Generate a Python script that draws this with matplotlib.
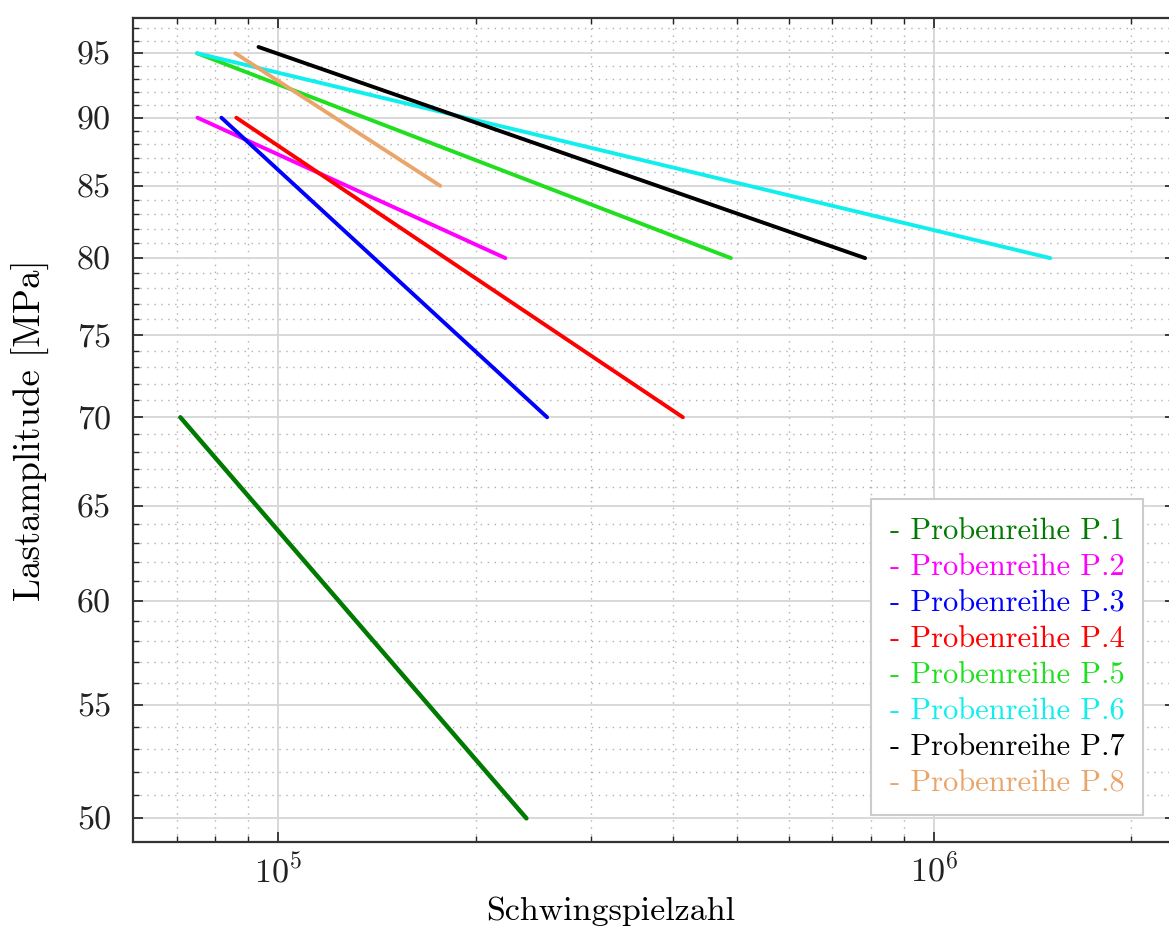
import numpy as np
import matplotlib
matplotlib.use("Agg")
import matplotlib.pyplot as plt
from matplotlib.ticker import FixedLocator, FixedFormatter, NullFormatter, LogLocator, LogFormatterMathtext

plt.rcParams['font.family'] = 'serif'
plt.rcParams['font.serif'] = ['cmr10', 'DejaVu Serif']
plt.rcParams['mathtext.fontset'] = 'cm'
plt.rcParams['axes.formatter.use_mathtext'] = True

# S-N lines (Basquin fits): start and end of each series
labels = ['Probenreihe P.1', 'Probenreihe P.2', 'Probenreihe P.3', 'Probenreihe P.4',
          'Probenreihe P.5', 'Probenreihe P.6', 'Probenreihe P.7', 'Probenreihe P.8']
colors = ['#007a00', '#ff00ff', '#0000ff', '#ff0000',
          '#1fdf1f', '#11eeee', '#000000', '#eaa66a']
n_start = [7.09e4, 7.53e4, 8.19e4, 8.63e4, 7.52e4, 7.52e4, 9.33e4, 8.60e4]
n_end = [2.39e5, 2.22e5, 2.57e5, 4.14e5, 4.90e5, 1.504e6, 7.85e5, 1.766e5]
s_start = [70, 90, 90, 90, 95, 95, 95.5, 95]
s_end = [50, 80, 70, 70, 80, 80, 80, 85]

y_major = [50, 55, 60, 65, 70, 75, 80, 85, 90, 95]
y_minor = [v for v in range(49, 98) if v % 5 != 0]

fig = plt.figure(figsize=(11.69, 9.27), dpi=100)
ax = fig.add_axes([0.1140, 0.0920, 0.8911, 0.8883])

for i in range(len(labels)):
    lw = 3.2 if i == 0 else 2.8
    ax.plot([n_start[i], n_end[i]], [s_start[i], s_end[i]], color=colors[i],
            lw=lw, solid_capstyle='round', label='- ' + labels[i], zorder=3)

ax.set_xscale('log')
ax.set_yscale('log')
ax.set_xlim(6.01e4, 2.33e6)
ax.set_ylim(49.03, 97.83)

ax.yaxis.set_major_locator(FixedLocator(y_major))
ax.yaxis.set_minor_locator(FixedLocator(y_minor))
ax.yaxis.set_major_formatter(FixedFormatter([str(v) for v in y_major]))
ax.yaxis.set_minor_formatter(NullFormatter())
ax.xaxis.set_major_locator(LogLocator(base=10, numticks=10))
ax.xaxis.set_minor_locator(LogLocator(base=10, subs=np.arange(2, 10), numticks=20))
ax.xaxis.set_major_formatter(LogFormatterMathtext())
ax.xaxis.set_minor_formatter(NullFormatter())

ax.grid(which='major', color='#d6d6d6', lw=1.3, ls='-', zorder=0)
ax.grid(which='minor', color='#b0b0b0', lw=1.0, ls=(0, (1, 4)), zorder=0)

ax.tick_params(which='both', direction='in', top=True, right=True, colors='#222222')
ax.tick_params(which='major', length=7, width=1.2)
ax.tick_params(which='minor', length=4, width=1.0)
ax.tick_params(axis='y', labelsize=24.5, pad=16)
ax.tick_params(axis='x', labelsize=24.5, pad=8)
for s in ax.spines.values():
    s.set_linewidth(1.6)
    s.set_color('#333333')

ax.set_xlabel('Schwingspielzahl', fontsize=24.5)
ax.set_ylabel('Lastamplitude [MPa]', fontsize=26.5)
ax.xaxis.set_label_coords(0.4586, -0.066)
ax.yaxis.set_label_coords(-0.080, 0.5)

leg = ax.legend(loc='lower right', bbox_to_anchor=(0.969, 0.032), borderaxespad=0,
                fontsize=22, handlelength=0, handletextpad=0, fancybox=False,
                edgecolor='#cccccc', framealpha=1, labelspacing=0.28,
                borderpad=0.6)
leg.get_frame().set_linewidth(1.5)
for h in leg.legend_handles:
    h.set_visible(False)
for t, c in zip(leg.get_texts(), colors):
    t.set_color(c)

fig.savefig('out.png', dpi=100)
